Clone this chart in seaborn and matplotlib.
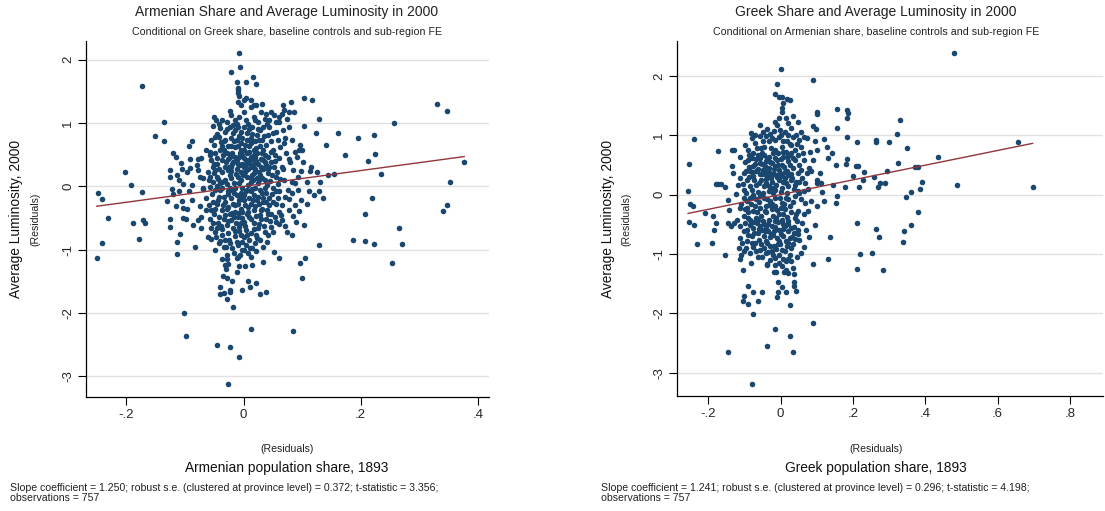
import matplotlib
matplotlib.use("Agg")
import matplotlib.pyplot as plt
import seaborn as sns
import numpy as np
import pandas as pd

# Partial-regression residuals: (population share residual, luminosity residual)
armenian_pts = [
    # western spread
    (-0.248, -0.100), (-0.241, -0.205), (-0.232, -0.495), (-0.241, -0.900), (-0.202, 0.226),
    (-0.192, 0.016), (-0.174, -0.089), (-0.189, -0.584), (-0.178, -0.830), (-0.172, -0.526),
    (-0.169, -0.574), (-0.152, 0.800), (-0.136, 1.016), (-0.136, 0.721), (-0.131, -0.230),
    (-0.126, 0.258), (-0.125, 0.142), (-0.122, -0.042), (-0.120, 0.521), (-0.115, 0.458),
    (-0.114, 0.179), (-0.111, 0.100), (-0.110, -0.068), (-0.121, -0.126), (-0.116, -0.310),
    (-0.125, -0.516), (-0.125, -0.637), (-0.109, -0.753), (-0.113, -0.874), (-0.106, 0.368),
    (-0.105, 0.268), (-0.104, 0.037), (-0.105, -0.226), (-0.103, -0.337), (-0.103, -0.505),
    (-0.098, -0.521), (-0.094, 0.632), (-0.091, 0.432), (-0.088, 0.721), (-0.091, 0.289),
    (-0.096, 0.221), (-0.088, 0.021), (-0.088, -0.216), (-0.093, -0.068), (-0.087, -0.616),
    (-0.083, -0.953), (-0.078, 0.437), (-0.077, 0.263), (-0.074, 0.142), (-0.072, 0.453),
    (-0.070, -0.042), (-0.074, -0.305), (-0.073, -0.489), (-0.078, -0.532), (-0.059, 0.100),
    (-0.059, -0.295), (-0.060, -0.805), (-0.056, -0.837), (-0.057, 0.542), (-0.174, 1.590),
    (-0.096, -0.350), (-0.072, -0.660), (-0.064, -0.370), (-0.058, -0.510), (-0.056, -0.660),
    (-0.064, -0.190), (-0.069, -0.030), (-0.061, 0.230), (-0.069, 0.130), (-0.064, 0.570),
    (-0.080, 0.340),
    # eastern spread
    (0.155, 0.195), (0.161, 0.837), (0.174, 0.495), (0.186, -0.847), (0.195, 0.768),
    (0.207, -0.442), (0.207, -0.863), (0.213, 0.400), (0.220, -0.189), (0.222, 0.816),
    (0.224, 0.511), (0.223, -0.910), (0.234, 0.195), (0.257, 0.995), (0.265, -0.658),
    (0.270, -0.916), (0.330, 1.295), (0.347, 1.195), (0.340, -0.384), (0.347, -0.295),
    (0.353, 0.074), (0.377, 0.389),
    # lower tail
    (-0.251, -1.126), (-0.114, -1.063), (-0.101, -1.995), (-0.098, -2.363), (-0.045, -2.510),
    (-0.023, -2.537), (-0.007, -2.700), (-0.027, -3.126), (0.0125, -2.253), (0.085, -2.289),
    (0.254, -1.210), (0.097, -1.210), (0.105, -1.132), (0.099, -1.442), (0.052, -1.042),
    (0.060, -1.126), (0.034, -1.195), (0.022, -1.016), (0.038, -1.673), (0.028, -1.700),
    (0.021, -1.521), (0.008, -1.495), (0.011, -1.584), (0.014, -1.242), (-0.003, -1.642),
    (-0.018, -1.905), (-0.023, -1.632), (-0.023, -1.668), (-0.028, -1.774), (-0.034, -1.679),
    (-0.041, -1.695), (-0.040, -1.595), (-0.035, -1.411), (-0.028, -1.453), (-0.020, -1.489),
    (-0.011, -1.358), (-0.007, -1.258), (0.003, -1.258), (0.007, -1.058), (-0.030, -1.311),
    (-0.027, -1.232), (-0.032, -1.242), (-0.028, -1.153), (-0.017, -1.058), (-0.011, -1.137),
    (-0.006, -1.084), (-0.003, -1.005), (-0.010, -1.110), (-0.029, -1.080), (-0.037, -1.140),
    (0.012, -1.110), (-0.048, -1.010), (0.001, -1.010),
    # upper core
    (-0.007, 2.11), (-0.006, 1.89), (-0.022, 1.80), (0.016, 1.73), (-0.011, 1.64),
    (0.004, 1.64), (0.022, 1.62), (-0.010, 1.56), (-0.009, 1.52), (-0.010, 1.47),
    (-0.008, 1.42), (-0.009, 1.34), (0.004, 1.40), (-0.024, 1.195), (-0.004, 1.28),
    (0.012, 1.25), (0.017, 1.28), (0.022, 1.28), (0.032, 1.30), (0.039, 1.15),
    (0.047, 1.18), (0.036, 1.07), (0.044, 1.05), (0.067, 1.28), (0.069, 1.20),
    (0.066, 1.15), (0.081, 1.34), (0.078, 1.18), (0.086, 1.17), (0.104, 1.39),
    (0.116, 1.37), (0.129, 1.07), (0.104, 0.95), (0.123, 0.84), (0.141, 0.66),
    (0.074, 1.06), (0.077, 0.94), (0.068, 0.89), (0.070, 0.77), (0.055, 1.02),
    (0.061, 1.01), (0.069, 0.68), (0.058, 0.73), (0.082, 0.73), (0.096, 0.65),
    (0.094, 0.57), (0.100, 0.57), (0.088, 0.55), (0.078, 0.44), (0.091, 0.47),
    (0.102, 0.39), (0.115, 0.31), (0.126, 0.23), (0.114, 0.24), (0.144, 0.18),
    (0.098, 0.25), (0.085, 0.26), (0.067, 0.28), (0.052, 0.31), (0.047, 0.39),
    (0.061, 0.45), (0.050, 0.57), (0.039, 0.65), (0.031, 0.73), (0.020, 0.71),
    (0.023, 0.81), (0.015, 0.94), (0.004, 1.05), (-0.007, 1.10), (-0.015, 1.05),
    (-0.023, 0.94), (-0.018, 0.84), (-0.031, 0.86), (-0.040, 0.92), (-0.042, 0.99),
    (-0.048, 0.78), (-0.056, 0.73), (-0.050, 0.65), (-0.034, 0.71), (-0.026, 0.63),
    (-0.010, 0.63), (0.001, 0.57), (0.009, 0.63), (-0.002, 0.76), (0.006, 0.84),
    (-0.012, 0.73), (-0.029, 0.52), (-0.040, 0.57), (-0.048, 0.52), (-0.058, 0.49),
    (-0.053, 0.31), (-0.045, 0.36), (-0.037, 0.42), (-0.031, 0.31), (-0.023, 0.47),
    (-0.018, 0.39), (-0.012, 0.28), (-0.007, 0.47), (-0.002, 0.36), (0.004, 0.26),
    (0.009, 0.42), (0.015, 0.31), (0.020, 0.47), (0.025, 0.36), (0.031, 0.52),
    (0.034, 0.28), (0.042, 0.21), (0.023, 0.13), (0.012, 0.07), (-0.004, 0.10),
    (-0.021, 0.13), (-0.037, 0.07), (-0.045, 0.15), (-0.053, 0.07), (0.055, 0.15),
    (0.069, 0.10), (0.082, 0.07), (0.093, 0.15), (0.109, 0.07), (0.131, 0.07),
    (-0.042, 0.78), (-0.037, 0.63), (-0.031, 0.73), (-0.021, 0.76), (-0.015, 0.89),
    (-0.010, 0.94), (-0.004, 0.86), (0.001, 0.94), (0.006, 0.73), (0.012, 0.68),
    (0.017, 0.57), (0.023, 0.52), (0.028, 0.63), (-0.015, 0.47), (-0.004, 0.57),
    (0.006, 0.52), (0.012, 0.47), (0.017, 0.36), (-0.010, 0.36), (-0.021, 0.31),
    (-0.026, 0.26), (0.001, 0.31), (-0.031, 0.10), (-0.010, 0.15), (0.006, 0.15),
    (0.017, 0.21), (0.028, 0.18), (0.034, 0.42), (0.042, 0.47), (0.044, 0.31),
    (-0.042, 0.28), (-0.050, 0.21), (-0.058, 0.15), (0.017, 1.10), (0.025, 1.02),
    (0.028, 0.89), (0.012, 0.76), (-0.004, 0.68), (-0.018, 0.97), (-0.029, 1.02),
    (0.050, 0.84), (0.055, 0.86), (0.042, 0.81), (0.044, 0.94), (0.034, 0.94),
    (-0.052, 0.95), (-0.046, 0.82), (-0.038, 0.70), (-0.033, 0.58), (-0.027, 0.44),
    (-0.019, 0.53), (-0.014, 0.62), (-0.008, 0.80), (0.003, 0.66), (0.010, 0.55),
    (0.014, 0.44), (0.021, 0.60), (0.027, 0.73), (0.033, 0.57), (0.037, 0.39),
    (0.041, 0.27), (0.046, 0.55), (0.053, 0.40), (0.057, 0.23), (0.062, 0.62),
    (-0.055, 0.42), (-0.049, 0.26), (-0.043, 0.12), (-0.036, 0.22), (-0.030, 0.38),
    (-0.024, 0.18), (-0.017, 0.05), (-0.013, 0.20), (-0.006, 0.33), (-0.001, 0.18),
    (0.004, 0.42), (0.008, 0.02), (0.013, 0.13), (0.019, 0.27), (0.024, 0.05),
    (0.029, 0.31), (0.036, 0.10), (0.040, 0.02), (0.048, 0.18), (0.058, 0.04),
    (-0.050, 1.10), (-0.036, 1.05), (-0.021, 1.12), (-0.012, 0.99), (0.000, 1.18),
    (0.008, 0.98), (0.020, 1.05), (0.030, 1.18), (0.040, 0.98), (0.052, 1.12),
    (0.000, 1.36), (0.012, 1.36),
    (-0.028, 0.04), (-0.020, 0.35), (-0.011, 0.42), (-0.005, 0.22), (0.001, 0.45),
    (0.007, 0.28), (0.011, 0.35), (0.016, 0.10), (0.022, 0.40), (0.026, 0.22),
    (0.032, 0.14), (0.038, 0.34), (-0.022, 0.64), (-0.006, 0.53), (0.014, 0.83),
    (0.024, 0.90), (0.035, 0.80), (0.047, 0.72), (0.065, 0.30), (0.072, 0.52),
    (0.080, 0.38),
    (-0.035, 0.50), (-0.025, 0.30), (-0.017, 0.72), (-0.003, 0.50), (0.005, 0.36),
    (0.018, 0.50), (0.030, 0.44), (0.010, 0.90), (-0.028, 0.90), (-0.045, 0.45),
    (-0.040, 0.05), (-0.022, 0.25), (-0.008, 0.05), (0.002, 0.23), (0.015, 0.18),
    (0.027, 0.10), (0.045, 0.08), (-0.050, 0.35), (0.037, 0.50), (0.054, 0.50),
    (-0.047, 1.05), (0.061, 1.10), (0.062, 0.12), (-0.046, 0.00),
    # lower core
    (-0.058, -0.005), (-0.048, -0.06), (-0.037, -0.02), (-0.026, -0.08), (-0.015, -0.03),
    (-0.004, -0.11), (0.006, -0.06), (0.017, -0.14), (0.028, -0.06), (0.039, -0.11),
    (0.050, -0.03), (0.061, -0.08), (-0.053, -0.24), (-0.042, -0.16), (-0.031, -0.24),
    (-0.021, -0.19), (-0.010, -0.27), (0.001, -0.22), (0.012, -0.27), (0.023, -0.22),
    (0.034, -0.24), (0.044, -0.19), (0.055, -0.27), (-0.048, -0.35), (-0.037, -0.37),
    (-0.026, -0.32), (-0.015, -0.40), (-0.004, -0.35), (0.006, -0.43), (0.017, -0.37),
    (0.028, -0.45), (-0.042, -0.48), (-0.031, -0.45), (-0.021, -0.53), (-0.010, -0.48),
    (0.001, -0.56), (0.012, -0.51), (-0.029, -0.61), (-0.018, -0.66), (-0.007, -0.64),
    (0.004, -0.69), (-0.045, -0.66), (-0.037, -0.77), (-0.026, -0.74), (-0.015, -0.79),
    (-0.004, -0.77), (-0.042, -0.90), (-0.034, -0.95), (-0.023, -0.90), (-0.012, -0.87),
    (0.004, -0.93), (0.009, -0.85), (0.015, -0.98), (0.023, -0.82), (0.028, -0.85),
    (0.042, -0.77), (0.050, -0.72), (0.074, -0.72), (0.082, -0.77), (0.055, -0.56),
    (0.066, -0.53), (0.128, -0.92), (0.104, -0.61), (0.089, -0.56), (0.039, -0.51),
    (0.047, -0.43), (0.066, -0.29), (0.077, -0.37), (0.088, -0.29), (0.098, -0.22),
    (0.109, -0.27), (0.120, -0.14), (0.128, -0.08), (0.136, -0.19), (0.071, -0.16),
    (0.082, -0.11), (0.093, -0.06), (0.112, -0.08),
    (-0.054, -0.12), (-0.046, -0.28), (-0.040, -0.05), (-0.034, -0.17), (-0.029, -0.36),
    (-0.023, -0.02), (-0.018, -0.27), (-0.012, -0.14), (-0.007, -0.42), (-0.002, -0.02),
    (0.003, -0.30), (0.009, -0.18), (0.014, -0.04), (0.019, -0.31), (0.025, -0.16),
    (0.031, -0.35), (0.036, -0.03), (0.043, -0.30), (0.049, -0.12), (0.058, -0.19),
    (-0.051, -0.44), (-0.044, -0.57), (-0.039, -0.62), (-0.033, -0.52), (-0.025, -0.85),
    (-0.020, -0.42), (-0.013, -0.58), (-0.008, -0.70), (-0.002, -0.50), (0.003, -0.62),
    (0.008, -0.40), (0.013, -0.74), (0.018, -0.58), (0.024, -0.66), (0.030, -0.52),
    (0.035, -0.62), (0.041, -0.44), (0.046, -0.64), (0.053, -0.48), (0.060, -0.40),
    (-0.047, -0.80), (-0.031, -0.84), (-0.020, -0.97), (-0.009, -0.92), (0.000, -0.80),
    (0.011, -0.97), (0.019, -0.90), (0.033, -0.95), (0.040, -0.88),
    (-0.027, -0.12), (-0.016, -0.10), (-0.008, -0.22), (0.000, -0.13), (0.007, -0.33),
    (0.012, -0.08), (0.020, -0.03), (0.026, -0.28), (0.033, -0.18), (0.039, -0.24),
    (-0.024, -0.44), (-0.014, -0.30), (-0.003, -0.40), (0.010, -0.48), (0.021, -0.46),
    (0.029, -0.38), (0.088, 0.05), (0.076, -0.05), (0.064, -0.45), (0.070, -0.63),
    (0.078, -0.20), (0.085, -0.46), (0.094, -0.39),
    (-0.044, -0.22), (-0.035, -0.30), (-0.019, -0.06), (-0.006, -0.18), (0.004, -0.08),
    (0.016, -0.22), (0.031, -0.10), (0.040, -0.38), (0.050, -0.25), (-0.055, -0.38),
    (-0.048, -0.72), (-0.036, -0.68), (-0.027, -0.55), (-0.016, -0.48), (-0.005, -0.58),
    (0.006, -0.76), (0.017, -0.68), (0.027, -0.60), (0.036, -0.72), (-0.030, -0.96),
    (-0.015, -0.70), (-0.002, -0.88), (0.022, -0.76), (0.045, -0.55), (-0.040, -0.86),
    (0.060, -0.60), (-0.052, -0.58), (0.055, -0.08),
]

greek_pts = [
    # outer points
    (0.478, 2.39), (0.002, 2.12), (-0.010, 1.87), (0.089, 1.93),
    (0.100, 1.40), (0.102, 1.36), (0.155, 1.44), (0.185, 1.42), (0.187, 1.37),
    (0.183, 1.30), (0.155, 1.13), (0.331, 1.26), (0.322, 1.03), (0.263, 0.92),
    (0.264, 0.88), (0.299, 0.88), (0.349, 0.79), (0.436, 0.63), (0.656, 0.88),
    (0.487, 0.17), (0.697, 0.13), (0.324, 0.53), (0.372, 0.46), (0.381, 0.46),
    (0.392, 0.21), (0.386, 0.09), (0.360, 0.05), (0.347, -0.045), (0.379, -0.30),
    (0.293, 0.40), (0.290, 0.19), (0.269, 0.135), (0.276, 0.20), (0.258, 0.29),
    (0.231, 0.38), (0.217, 0.135), (0.208, 0.48), (0.215, 0.48), (0.201, 0.31),
    (0.228, 0.25), (0.182, 0.52), (0.183, 0.60), (0.185, 0.97), (0.210, 0.89),
    (0.178, 0.135), (0.144, 0.17), (0.156, -0.02), (0.153, -0.135), (0.121, -0.10),
    (0.116, 0.05), (0.110, 0.37), (0.130, 0.61), (0.153, 0.50), (0.142, 0.71),
    (0.128, 0.80), (0.119, 0.94), (0.112, 0.20), (0.102, 0.19), (0.100, -0.20),
    (-0.239, 0.94), (-0.252, 0.52), (-0.256, 0.06), (-0.250, -0.16), (-0.241, -0.20),
    (-0.209, -0.31), (-0.186, -0.36), (-0.172, 0.74), (-0.179, 0.18), (-0.172, 0.18),
    (-0.165, 0.18), (-0.154, 0.135), (-0.145, -0.09), (-0.134, 0.48), (-0.131, 0.37),
    (-0.128, 0.75), (-0.134, 0.76), (-0.122, 0.01), (-0.117, 0.16), (-0.142, -0.26),
    (-0.113, -0.23),
    # upper core
    (-0.016, 1.69), (-0.005, 1.65), (0.004, 1.64), (0.017, 1.61), (0.025, 1.59),
    (0.008, 1.54), (0.004, 1.46), (0.005, 1.40), (0.091, 1.15), (0.047, 1.22),
    (-0.056, 1.17), (-0.014, 1.23), (0.014, 1.29), (-0.010, 1.18), (-0.018, 1.08),
    (-0.001, 1.09), (0.012, 1.06), (0.030, 1.12), (0.043, 1.01), (0.056, 1.05),
    (0.065, 0.97), (0.074, 0.95), (0.096, 0.90), (0.097, 1.10), (-0.082, 1.04),
    (-0.097, 0.84), (-0.111, 0.64), (-0.089, 0.58), (-0.075, 0.70), (-0.071, 0.87),
    (-0.049, 0.90), (-0.040, 0.98), (-0.032, 0.90), (-0.027, 0.78), (-0.054, 0.78),
    (-0.062, 0.67), (-0.045, 0.67), (-0.032, 0.64), (-0.014, 0.76), (0.004, 0.81),
    (0.017, 0.90), (0.030, 0.84), (0.039, 0.76), (0.025, 0.67), (0.008, 0.64),
    (-0.010, 0.59), (-0.023, 0.53), (-0.040, 0.56), (-0.058, 0.53), (-0.075, 0.48),
    (-0.084, 0.39), (-0.102, 0.36), (-0.111, 0.28), (-0.093, 0.25), (-0.075, 0.31),
    (-0.067, 0.39), (-0.049, 0.42), (-0.032, 0.45), (-0.014, 0.48), (0.004, 0.50),
    (0.021, 0.56), (0.039, 0.59), (0.047, 0.67), (0.056, 0.81), (0.065, 0.59),
    (0.052, 0.50), (0.034, 0.45), (0.017, 0.39), (-0.001, 0.36), (-0.018, 0.34),
    (-0.036, 0.31), (-0.054, 0.25), (-0.067, 0.17), (-0.084, 0.14), (-0.102, 0.08),
    (-0.040, 0.20), (-0.023, 0.22), (-0.005, 0.25), (0.012, 0.28), (0.030, 0.34),
    (0.047, 0.36), (0.056, 0.42), (0.074, 0.36), (0.078, 0.45), (0.004, 0.11),
    (-0.014, 0.08), (0.021, 0.14), (0.039, 0.17), (-0.032, 0.06), (-0.049, 0.03),
    (-0.075, 0.00), (-0.067, -0.08), (-0.093, -0.11), (0.047, 0.06), (0.065, 0.06),
    (0.039, -0.03), (0.021, -0.08), (0.004, -0.14), (-0.014, -0.20), (-0.032, -0.17),
    (0.056, -0.08), (0.069, -0.14), (0.100, 0.25), (0.100, 0.76), (0.091, 0.59),
    (-0.097, 0.55), (-0.088, 0.46), (-0.080, 0.62), (-0.070, 0.52), (-0.062, 0.44),
    (-0.057, 0.62), (-0.050, 0.52), (-0.043, 0.34), (-0.037, 0.62), (-0.028, 0.37),
    (-0.020, 0.70), (-0.018, 0.44), (-0.008, 0.70), (-0.003, 0.42), (0.002, 0.60),
    (0.010, 0.47), (0.014, 0.72), (0.020, 0.33), (0.027, 0.50), (0.034, 0.62),
    (-0.105, 0.18), (-0.096, 0.02), (-0.088, 0.30), (-0.080, 0.08), (-0.072, 0.24),
    (-0.063, 0.05), (-0.058, 0.34), (-0.047, 0.14), (-0.041, 0.27), (-0.033, 0.14),
    (-0.027, 0.28), (-0.020, 0.02), (-0.012, 0.17), (-0.006, 0.33), (0.000, 0.04),
    (0.008, 0.21), (0.013, 0.38), (0.018, 0.03), (0.028, 0.24), (0.036, 0.10),
    (-0.090, 0.76), (-0.078, 0.95), (-0.066, 0.79), (-0.058, 0.98), (-0.046, 0.80),
    (-0.038, 1.10), (-0.024, 0.96), (-0.005, 0.97), (0.008, 0.90), (0.022, 1.00),
    (0.035, 0.97), (0.046, 0.86), (-0.030, 1.02), (0.020, 1.20), (-0.004, 1.30),
    (0.034, 1.32), (0.052, 0.22), (0.060, 0.28), (0.068, 0.20), (0.076, 0.10),
    (0.085, 0.40), (0.082, 0.72), (0.062, 0.70), (0.050, 0.92),
    (-0.086, 0.66), (-0.068, 0.60), (-0.052, 0.70), (-0.042, 0.48), (-0.030, 0.55),
    (-0.016, 0.62), (-0.006, 0.50), (0.006, 0.72), (0.018, 0.64), (0.030, 0.70),
    (-0.094, 0.40), (-0.078, 0.38), (-0.060, 0.20), (-0.050, 0.34), (-0.036, 0.40),
    (-0.024, 0.12), (-0.010, 0.30), (0.004, 0.32), (0.016, 0.20), (0.032, 0.28),
    (-0.070, 1.00), (-0.048, 1.06), (-0.016, 0.92), (0.002, 1.00), (0.026, 0.86),
    (0.042, 0.22), (0.050, 0.02),
    # lower core
    (-0.093, -0.22), (-0.075, -0.28), (-0.058, -0.22), (-0.040, -0.30), (-0.023, -0.25),
    (-0.005, -0.33), (0.012, -0.25), (0.030, -0.30), (0.047, -0.28), (0.065, -0.33),
    (-0.102, -0.36), (-0.084, -0.42), (-0.067, -0.39), (-0.049, -0.45), (-0.032, -0.42),
    (-0.014, -0.45), (0.004, -0.42), (0.021, -0.45), (0.039, -0.39), (-0.119, -0.42),
    (-0.128, -0.47), (-0.137, -0.53), (-0.146, -0.47), (-0.111, -0.53), (-0.093, -0.59),
    (-0.075, -0.56), (-0.058, -0.53), (-0.040, -0.56), (-0.023, -0.53), (-0.005, -0.59),
    (0.012, -0.53), (0.030, -0.56), (0.047, -0.59), (-0.102, -0.62), (-0.080, -0.70),
    (-0.062, -0.64), (-0.045, -0.70), (-0.027, -0.67), (-0.010, -0.73), (0.008, -0.70),
    (0.025, -0.73), (0.047, -0.67), (-0.111, -0.73), (-0.106, -0.81), (-0.093, -0.78),
    (-0.071, -0.81), (-0.054, -0.84), (-0.036, -0.81), (-0.018, -0.87), (-0.001, -0.84),
    (0.017, -0.87), (0.034, -0.84), (0.052, -0.76), (-0.115, -0.90), (-0.058, -0.93),
    (-0.040, -0.98), (-0.023, -0.95), (-0.005, -1.01), (0.012, -0.95), (0.025, -1.01),
    (-0.036, -1.18), (-0.014, -1.07), (-0.005, -1.15), (0.004, -1.21), (0.021, -1.32),
    (-0.110, -0.15), (-0.100, -0.05), (-0.089, -0.30), (-0.082, -0.16), (-0.076, -0.04),
    (-0.066, -0.30), (-0.060, -0.12), (-0.053, -0.36), (-0.046, -0.06), (-0.041, -0.20),
    (-0.034, -0.50), (-0.028, -0.10), (-0.022, -0.36), (-0.016, -0.05), (-0.010, -0.26),
    (-0.002, -0.05), (0.006, -0.33), (0.010, -0.16), (0.017, -0.38), (0.025, -0.20),
    (0.034, -0.12), (0.043, -0.32), (-0.098, -0.48), (-0.090, -0.68), (-0.084, -0.52),
    (-0.072, -0.64), (-0.066, -0.48), (-0.060, -0.76), (-0.052, -0.60), (-0.046, -0.50),
    (-0.040, -0.78), (-0.034, -0.62), (-0.028, -0.86), (-0.022, -0.68), (-0.015, -0.55),
    (-0.012, -0.92), (-0.004, -0.78), (0.002, -0.66), (0.006, -0.50), (0.014, -0.78),
    (0.020, -0.62), (0.028, -0.90), (0.038, -0.55), (0.041, -0.74), (-0.094, -0.90),
    (-0.084, -0.98), (-0.068, -0.95), (-0.050, -1.05), (-0.030, -1.10), (-0.016, -1.18),
    (0.006, -1.08), (0.016, -1.12), (0.030, -1.12), (0.045, -1.05), (0.058, -0.48),
    (0.070, -0.60), (0.075, -0.28), (0.085, -0.10), (0.066, -0.88), (0.080, -0.72),
    (-0.098, -0.25), (-0.085, -0.06), (-0.070, -0.20), (-0.056, -0.02), (-0.044, -0.28),
    (-0.036, -0.08), (-0.024, -0.16), (-0.012, -0.40), (0.000, -0.22), (0.014, -0.06),
    (-0.090, -0.40), (-0.076, -0.46), (-0.060, -0.58), (-0.044, -0.62), (-0.030, -0.72),
    (-0.018, -0.62), (-0.006, -0.46), (0.008, -0.58), (0.022, -0.50), (0.036, -0.64),
    (-0.100, -0.95), (-0.076, -0.88), (-0.062, -1.05), (-0.046, -0.90), (-0.034, -0.96),
    (-0.022, -1.02), (-0.008, -0.84), (0.004, -0.94), (0.020, -0.82), (0.032, -0.72),
    (-0.062, -0.42), (-0.080, -0.82), (0.045, -0.45),
    # lower tail
    (-0.253, -0.455), (-0.239, -0.52), (-0.230, -0.83), (-0.188, -0.81), (-0.185, -0.60),
    (-0.178, -0.47), (-0.154, -1.02), (-0.113, -1.09), (-0.108, -1.02), (-0.105, -1.27),
    (-0.081, -1.15), (-0.091, -1.54), (-0.102, -1.71), (-0.104, -1.79), (-0.090, -1.85),
    (-0.077, -1.65), (-0.062, -1.79), (-0.050, -1.65), (-0.077, -2.02), (-0.014, -2.26),
    (-0.037, -2.55), (-0.146, -2.65), (-0.078, -3.20), (0.027, -2.38), (0.034, -2.66),
    (0.091, -2.16), (0.027, -1.86), (-0.007, -1.64), (-0.009, -1.73), (0.005, -1.55),
    (0.015, -1.64), (-0.006, -1.48), (0.037, -1.48), (0.037, -1.54), (0.044, -1.62),
    (-0.037, -1.17), (-0.018, -1.30), (-0.012, -1.30), (0.011, -1.31), (0.015, -1.27),
    (0.034, -1.23), (0.037, -1.33), (0.089, -1.17), (0.095, -0.52), (0.130, -1.09),
    (0.136, -0.72), (0.210, -1.26), (0.212, -0.48), (0.219, -1.00), (0.253, -0.98),
    (0.264, -0.58), (0.271, -0.72), (0.282, -1.27), (0.338, -0.80), (0.340, -0.61),
    (0.360, -0.52), (0.057, -0.98), (0.020, -1.09),
]

armenian_slope = 1.250
greek_slope = 1.241

arm_xticks = [-0.2, 0.0, 0.2, 0.4]
arm_xticklabels = ["-.2", "0", ".2", ".4"]
grk_xticks = [-0.2, 0.0, 0.2, 0.4, 0.6, 0.8]
grk_xticklabels = ["-.2", "0", ".2", ".4", ".6", ".8"]
y_ticks = [-3, -2, -1, 0, 1, 2]
y_ticklabels = ["-3", "-2", "-1", "0", "1", "2"]

titles = ["Armenian Share and Average Luminosity in 2000",
          "Greek Share and Average Luminosity in 2000"]
subtitles = ["Conditional on Greek share, baseline controls and sub-region FE",
             "Conditional on Armenian share, baseline controls and sub-region FE"]
xlabels = ["Armenian population share, 1893", "Greek population share, 1893"]
ylabel = "Average Luminosity, 2000"
notes = [
    "Slope coefficient = 1.250; robust s.e. (clustered at province level) = 0.372; t-statistic = 3.356;\nobservations = 757",
    "Slope coefficient = 1.241; robust s.e. (clustered at province level) = 0.296; t-statistic = 4.198;\nobservations = 757",
]

NAVY = "#1a476f"
MAROON = "#90353b"
GRID = "#e1e1e1"

sns.set_theme(style="white")
plt.rcParams["font.family"] = ["Liberation Sans", "DejaVu Sans"]

W, H = 1105, 511
fig = plt.figure(figsize=(W / 100, H / 100), dpi=100)


def px_box(left, top, right, bottom):
    return [left / W, 1 - bottom / H, (right - left) / W, (bottom - top) / H]


def draw_panel(ax, pts, slope, xticks, xticklabels, xlim, ylim):
    df = pd.DataFrame(pts, columns=["share", "lum"])
    ax.set_axisbelow(True)
    ax.yaxis.grid(True, color=GRID, linewidth=1.0)
    ax.xaxis.grid(False)
    sns.scatterplot(data=df, x="share", y="lum", ax=ax, color=NAVY, s=16,
                    linewidth=0, zorder=3, legend=False)
    xs = np.array([df["share"].min(), df["share"].max()])
    fit = pd.DataFrame({"share": xs, "lum": slope * xs})
    sns.lineplot(data=fit, x="share", y="lum", ax=ax, color=MAROON,
                 linewidth=1.0, zorder=4)
    ax.set_xlim(*xlim)
    ax.set_ylim(*ylim)
    ax.set_xticks(xticks)
    ax.set_xticklabels(xticklabels)
    ax.set_yticks(y_ticks)
    ax.set_yticklabels(y_ticklabels, rotation=90, va="center")
    ax.tick_params(axis="both", direction="out", length=5.5, width=0.8,
                   color="black", labelsize=9.5, pad=3, left=True, bottom=True)
    ax.set_xlabel("")
    ax.set_ylabel("")
    for side in ("top", "right"):
        ax.spines[side].set_visible(False)
    for side in ("left", "bottom"):
        ax.spines[side].set_color("black")
        ax.spines[side].set_linewidth(0.9)


ax1 = fig.add_axes(px_box(86, 41, 489, 397))
draw_panel(ax1, armenian_pts, armenian_slope, arm_xticks, arm_xticklabels,
           (-0.269, 0.419), (-3.324, 2.295))
ax2 = fig.add_axes(px_box(677, 41, 1103, 396))
draw_panel(ax2, greek_pts, greek_slope, grk_xticks, grk_xticklabels,
           (-0.286, 0.891), (-3.395, 2.59))

centers = [287, 876]
ylab_x = [(16, 35), (608, 626)]
note_x = [10, 601]
for i in range(2):
    cx = centers[i] / W
    fig.text(cx, 1 - 12 / H, titles[i], ha="center", va="center", fontsize=10, color="#222222")
    fig.text(cx, 1 - 32 / H, subtitles[i], ha="center", va="center", fontsize=7.7, color="#222222")
    fig.text(cx, 1 - 449 / H, "(Residuals)", ha="center", va="center", fontsize=7.6, color="#222222")
    fig.text(cx, 1 - 468 / H, xlabels[i], ha="center", va="center", fontsize=9.9, color="#111111")
    fig.text(ylab_x[i][0] / W, 1 - 219 / H, ylabel, rotation=90, ha="center", va="center",
             fontsize=9.9, color="#111111")
    fig.text(ylab_x[i][1] / W, 1 - 219 / H, "(Residuals)", rotation=90, ha="center", va="center",
             fontsize=7.6, color="#222222")
    fig.text(note_x[i] / W, 1 - 483 / H, notes[i], ha="left", va="top", fontsize=7.6,
             color="#222222", linespacing=0.95)

fig.savefig("out.png", dpi=100)
